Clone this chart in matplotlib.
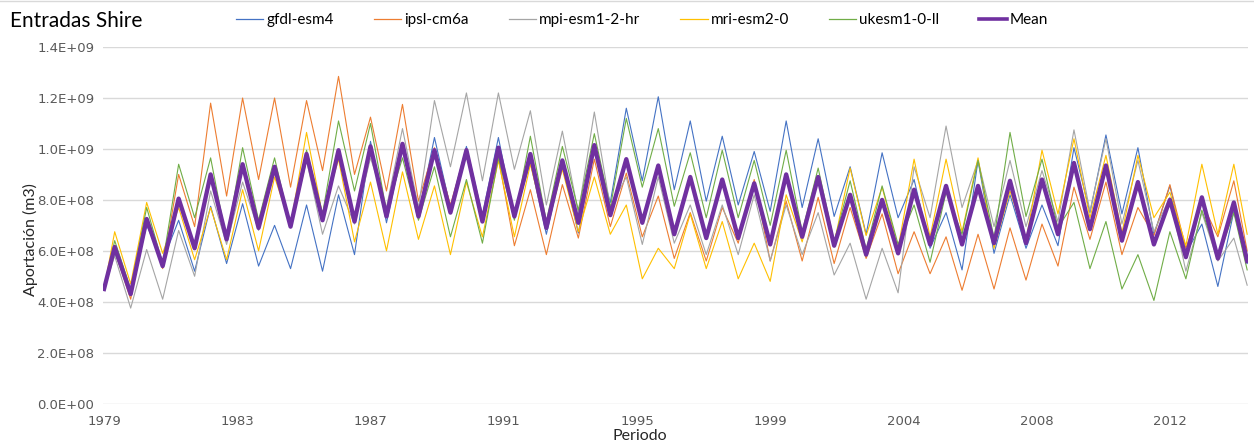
import matplotlib
matplotlib.use("Agg")
import matplotlib.pyplot as plt
from matplotlib.lines import Line2D

# Values in units of 1e8 m3; one peak (around May) and one trough (around Nov) per year
years = list(range(1979, 2015))
start_value = 4.5

gfdl_peak = [5.9, 7.0, 7.2, 7.75, 7.85, 7.0, 7.8, 8.2, 10.3, 10.0, 10.45, 10.1, 10.45, 9.5, 9.4, 10.1,
             11.6, 12.05, 11.1, 10.5, 9.9, 11.1, 10.4, 9.3, 9.85, 8.8, 7.5, 9.55, 8.2, 7.8, 10.05, 10.55,
             10.05, 8.55, 7.05, 7.55]
gfdl_trough = [4.4, 5.6, 5.2, 5.5, 5.4, 5.3, 5.2, 5.85, 7.1, 7.4, 7.7, 7.4, 7.3, 6.65, 6.7, 7.9,
               8.75, 8.4, 7.95, 7.8, 7.55, 7.7, 7.35, 6.65, 7.3, 6.1, 5.25, 5.9, 6.1, 6.2, 7.5, 7.45,
               6.65, 5.9, 4.6, 5.5]

ipsl_peak = [6.0, 7.3, 9.0, 11.8, 12.0, 12.0, 11.9, 12.85, 11.25, 11.75, 10.05, 10.0, 9.65, 8.4, 8.6, 9.6,
             9.05, 8.15, 7.5, 7.7, 8.8, 7.95, 8.1, 7.7, 7.45, 6.75, 6.55, 6.65, 6.9, 7.05, 8.5, 8.7,
             7.7, 8.6, 7.9, 8.75]
ipsl_trough = [4.1, 5.3, 6.95, 8.15, 8.8, 8.5, 9.15, 9.0, 8.35, 7.95, 7.8, 7.3, 6.2, 5.85, 6.5, 6.95,
               6.55, 5.7, 5.6, 6.3, 5.6, 5.6, 5.5, 5.7, 5.1, 5.1, 4.45, 4.5, 4.85, 5.4, 6.45, 5.85,
               6.6, 6.1, 6.55, 6.0]

mpi_peak = [5.8, 6.05, 6.8, 8.35, 8.7, 9.15, 9.55, 8.55, 9.65, 10.8, 11.9, 12.2, 12.2, 11.5, 10.7, 11.45,
            8.9, 8.9, 7.8, 7.8, 8.2, 7.8, 7.5, 6.3, 6.1, 9.3, 10.9, 9.55, 9.55, 9.15, 10.75, 10.4,
            9.55, 8.1, 7.5, 6.5]
mpi_trough = [3.75, 4.1, 5.0, 6.25, 6.8, 6.9, 6.65, 7.05, 7.7, 7.7, 9.3, 8.75, 9.2, 7.8, 7.5, 7.7,
              6.25, 6.3, 5.85, 5.85, 5.6, 5.85, 5.05, 4.1, 4.35, 7.3, 7.7, 6.95, 6.95, 7.15, 7.55, 7.05,
              6.75, 5.2, 5.6, 4.65]

mri_peak = [6.75, 7.9, 7.7, 7.7, 8.4, 8.9, 10.65, 9.6, 8.7, 9.1, 8.55, 8.7, 9.55, 9.4, 9.2, 8.9,
            7.8, 6.1, 7.45, 7.15, 6.3, 8.2, 8.95, 9.25, 8.5, 9.6, 9.6, 9.65, 8.35, 9.95, 10.4, 9.75,
            9.75, 8.3, 9.4, 9.4]
mri_trough = [4.7, 5.9, 5.65, 5.65, 6.0, 7.0, 7.4, 6.35, 6.0, 6.45, 5.85, 6.55, 6.55, 6.85, 6.75, 6.65,
              4.9, 5.3, 5.3, 4.9, 4.8, 6.35, 6.3, 6.6, 6.1, 6.55, 6.75, 6.1, 6.4, 7.45, 7.3, 6.7,
              7.3, 6.2, 6.65, 6.65]

ukesm_peak = [6.4, 7.7, 9.4, 9.65, 10.05, 9.65, 9.95, 11.1, 11.0, 9.65, 9.3, 8.8, 9.65, 10.5, 10.1, 10.6,
              11.2, 10.8, 9.85, 9.95, 9.55, 9.95, 9.25, 8.75, 8.55, 7.8, 8.3, 9.55, 10.65, 9.6, 7.9, 7.15,
              5.85, 6.75, 7.6, 7.5]
ukesm_trough = [4.5, 5.5, 7.3, 6.4, 7.2, 6.95, 7.45, 8.35, 7.55, 7.2, 6.55, 6.3, 7.2, 7.15, 7.6, 7.7,
                8.5, 7.75, 7.3, 7.3, 7.0, 6.75, 6.35, 6.05, 6.25, 5.55, 6.65, 6.5, 7.35, 6.9, 5.3, 4.5,
                4.05, 4.9, 5.7, 5.25]

mean_peak = [6.15, 7.25, 8.05, 9.0, 9.4, 9.3, 9.8, 9.95, 10.1, 10.2, 9.95, 9.95, 10.05, 9.8, 9.55, 10.15,
             9.6, 9.35, 8.9, 8.8, 8.65, 9.0, 8.9, 8.2, 8.0, 8.4, 8.55, 8.55, 8.75, 8.8, 9.45, 9.35,
             8.7, 8.0, 8.1, 7.9]
mean_trough = [4.3, 5.4, 6.1, 6.45, 6.9, 6.95, 7.2, 7.15, 7.35, 7.35, 7.5, 7.15, 7.35, 6.9, 7.1, 7.4,
               7.1, 6.65, 6.5, 6.5, 6.25, 6.55, 6.2, 5.85, 5.9, 6.25, 6.25, 6.3, 6.3, 6.65, 6.85, 6.4,
               6.25, 5.75, 5.7, 5.6]

series_names = ["gfdl-esm4", "ipsl-cm6a", "mpi-esm1-2-hr", "mri-esm2-0", "ukesm1-0-ll", "Mean"]
tick_labels = ["1979", "1983", "1987", "1991", "1995", "1999", "2004", "2008", "2012"]
y_ticks = [0, 2e8, 4e8, 6e8, 8e8, 1.0e9, 1.2e9, 1.4e9]

n_months = 430
peak_month = 4
trough_month = 10

# month index of each key point (time axis)
key_months = [0]
for i, _ in enumerate(years):
    key_months.append(12 * i + peak_month)
    key_months.append(min(12 * i + trough_month, n_months - 1))


def build(peaks, troughs):
    vals = [start_value]
    for p, t in zip(peaks, troughs):
        vals.append(p)
        vals.append(t)
    return [v * 1e8 for v in vals]


data = [
    (gfdl_peak, gfdl_trough),
    (ipsl_peak, ipsl_trough),
    (mpi_peak, mpi_trough),
    (mri_peak, mri_trough),
    (ukesm_peak, ukesm_trough),
    (mean_peak, mean_trough),
]
colors = ["#4472C4", "#ED7D31", "#A5A5A5", "#FFC000", "#70AD47", "#7030A0"]
widths = [0.8, 0.8, 0.8, 0.8, 0.8, 3.1]

W, H = 1254, 447
fig = plt.figure(figsize=(W / 100, H / 100), dpi=100)
left = 102.7 / W
bottom = (H - 403.6) / H
width = (1248.5 - 102.7) / W
height = (403.6 - 47.1) / H
ax = fig.add_axes([left, bottom, width, height])

font = "Liberation Sans Narrow"
tick_color = "#595959"

for (pk, tr), c, lw, name in zip(data, colors, widths, series_names):
    ax.plot(key_months, build(pk, tr), color=c, lw=lw, label=name,
            zorder=3 if name == "Mean" else 2, solid_joinstyle="round")

ax.set_xlim(-0.5, n_months - 0.5)
ax.set_ylim(0, 1.4e9)
ax.set_yticks(y_ticks)
ax.set_yticklabels([f"{v:.1E}" for v in y_ticks], fontsize=9.5, color=tick_color, family=font)
ax.set_xticks(list(range(0, 50 * len(tick_labels), 50)))
ax.set_xticklabels(tick_labels, fontsize=9.5, color=tick_color, family=font)
ax.tick_params(axis="both", length=0, pad=6)
ax.tick_params(axis="x", pad=8)
ax.grid(axis="y", color="#D9D9D9", lw=1)
ax.set_axisbelow(True)
for s in ax.spines.values():
    s.set_visible(False)

fig.text(30 / W, 1 - 240 / H, "Aportación (m3)", rotation=90, ha="center", va="center",
         fontsize=11.5, family="Lato", color="#262626")
fig.text(640 / W, 1 - 436 / H, "Periodo", ha="center", va="center", fontsize=11.5,
         family="Lato", color="#262626")
fig.text(10 / W, 1 - 21 / H, "Entradas Shire", ha="left", va="center", fontsize=15,
         family="Lato", color="#000000")

handles = [Line2D([0], [0], color=c, lw=(0.9 if lw < 1 else 2.6)) for c, lw in zip(colors, widths)]
fig.legend(handles, series_names, loc="center", bbox_to_anchor=(642 / W, 1 - 20 / H), ncol=6,
           frameon=False, handlelength=1.8, handletextpad=0.2, columnspacing=2.6,
           prop={"family": "Lato", "size": 11})

fig.add_artist(Line2D([0, 1], [1 - 0.5 / H, 1 - 0.5 / H], color="#D9D9D9", lw=1,
                      transform=fig.transFigure))

fig.savefig("out.png", dpi=100)
